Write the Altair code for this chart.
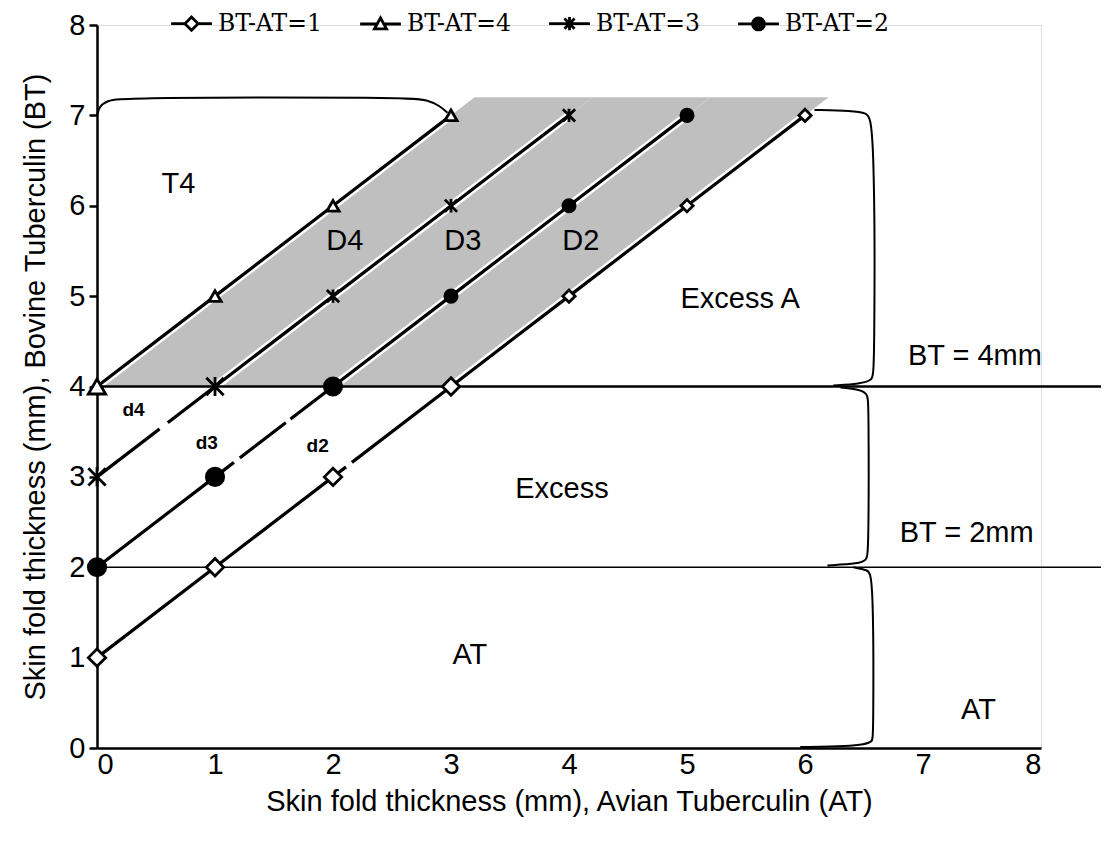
import altair as alt
import pandas as pd

# ---------------- data ----------------
series_names = ["BT-AT=1", "BT-AT=4", "BT-AT=3", "BT-AT=2"]

at_1 = [0, 1, 2, 3, 4, 5, 6]
bt_1 = [1, 2, 3, 4, 5, 6, 7]
at_4 = [0, 1, 2, 3]
bt_4 = [4, 5, 6, 7]
at_3 = [0, 1, 2, 3, 4]
bt_3 = [3, 4, 5, 6, 7]
at_2 = [0, 1, 2, 3, 4, 5]
bt_2 = [2, 3, 4, 5, 6, 7]

band_names = ["D4", "D3", "D2"]
band_upper_diff = [4, 3, 2]
band_lower_diff = [3, 2, 1]
band_bottom = 4.0
band_top = 7.2

tick_values = [0, 1, 2, 3, 4, 5, 6, 7, 8]

# region labels
big_labels = ["T4", "D4", "D3", "D2", "Excess A", "BT = 4mm", "Excess", "BT = 2mm", "AT", "AT"]
big_at = [0.69, 2.10, 3.10, 4.10, 5.45, 7.44, 3.94, 7.37, 3.16, 7.47]
big_bt = [6.24, 5.61, 5.61, 5.61, 4.97, 4.34, 2.87, 2.38, 1.03, 0.42]

small_labels = ["d4", "d3", "d2"]
small_at = [0.31, 0.93, 1.87]
small_bt = [3.74, 3.37, 3.34]

# bracket annotations (AT, BT)
brace_t4_at = [0.0, 0.02, 0.08, 0.22, 2.65, 2.80, 2.90, 2.97]
brace_t4_bt = [7.0, 7.10, 7.16, 7.20, 7.20, 7.17, 7.11, 7.03]
brace_a_at = [6.08, 6.40, 6.52, 6.59, 6.59, 6.57, 6.47, 6.24]
brace_a_bt = [7.06, 7.05, 7.03, 6.95, 4.15, 4.07, 4.03, 4.01]
brace_ex_at = [6.30, 6.46, 6.53, 6.54, 6.54, 6.52, 6.46, 6.19]
brace_ex_bt = [3.99, 3.97, 3.92, 3.82, 2.15, 2.08, 2.04, 2.02]
brace_at_at = [6.41, 6.53, 6.58, 6.58, 6.57, 6.50, 6.38, 5.96]
brace_at_bt = [2.00, 1.97, 1.92, 0.12, 0.07, 0.04, 0.02, 0.01]

# small white breaks in the lines next to the d-labels (AT start, AT end, BT-AT)
gap_at_start = [0.53, 1.16, 1.60, 2.11]
gap_at_end = [0.60, 1.21, 1.64, 2.16]
gap_diff = [3, 2, 2, 1]

thresholds_thick = [4]
thresholds_thin = [2]
rule_start = 0
rule_end = 8.6

# ---------------- tables ----------------
pts = []
for name, ats, bts in [("BT-AT=1", at_1, bt_1), ("BT-AT=4", at_4, bt_4),
                       ("BT-AT=3", at_3, bt_3), ("BT-AT=2", at_2, bt_2)]:
    for a, b in zip(ats, bts):
        pts.append({"series": name, "AT": a, "BT": b})
pts_df = pd.DataFrame(pts)


def band_table(up, lo):
    # parallelogram between BT = AT + lo and BT = AT + up, for band_bottom <= BT <= band_top
    xa, xb, xc, xd = band_bottom - up, band_bottom - lo, band_top - up, band_top - lo
    return pd.DataFrame({
        "AT": [xa, xb, xc, xd],
        "lo": [band_bottom, band_bottom, xc + lo, band_top],
        "hi": [band_bottom, xb + up, band_top, band_top],
    })


brace_rows = []
for n, xs_, ys_ in [("t4", brace_t4_at, brace_t4_bt), ("a", brace_a_at, brace_a_bt),
                    ("ex", brace_ex_at, brace_ex_bt), ("at", brace_at_at, brace_at_bt)]:
    for i, (a, b) in enumerate(zip(xs_, ys_)):
        brace_rows.append({"brace": n, "i": i, "AT": a, "BT": b})
brace_df = pd.DataFrame(brace_rows)

gap_df = pd.DataFrame({"AT": gap_at_start, "AT2": gap_at_end,
                       "BT": [a + d for a, d in zip(gap_at_start, gap_diff)],
                       "BT2": [a + d for a, d in zip(gap_at_end, gap_diff)]})

big_df = pd.DataFrame({"label": big_labels, "AT": big_at, "BT": big_bt})
small_df = pd.DataFrame({"label": small_labels, "AT": small_at, "BT": small_bt})
thick_df = pd.DataFrame({"BT": thresholds_thick, "AT": rule_start, "AT2": rule_end})
thin_df = pd.DataFrame({"BT": thresholds_thin, "AT": rule_start, "AT2": rule_end})

# ---------------- encodings ----------------
FONT = "Liberation Sans"
xs = alt.Scale(domain=[0, 8], nice=False, zero=True)
ys = alt.Scale(domain=[0, 8], nice=False, zero=True)
x_axis = alt.Axis(values=tick_values, grid=False, ticks=False, domainColor="black",
                  domainWidth=2.5, labelFont=FONT, labelFontSize=29, labelColor="black",
                  labelPadding=2, titleFont=FONT, titleFontSize=29, titleFontWeight="normal",
                  titleColor="black", titlePadding=8)
y_axis = alt.Axis(values=tick_values, grid=False, tickColor="black", tickWidth=2.5, tickSize=8,
                  domainColor="black", domainWidth=2.5, labelFont=FONT, labelFontSize=29,
                  labelColor="black", labelPadding=4, titleFont=FONT, titleFontSize=29,
                  titleFontWeight="normal", titleColor="black", titlePadding=18)
XT = "Skin fold thickness (mm), Avian Tuberculin (AT)"
YT = "Skin fold thickness (mm), Bovine Tuberculin (BT)"


def X(field="AT"):
    return alt.X(field, type="quantitative", scale=xs, axis=x_axis, title=XT)


def Y(field="BT"):
    return alt.Y(field, type="quantitative", scale=ys, axis=y_axis, title=YT)


band_layers = [
    alt.Chart(band_table(up, lo)).mark_area(fill="#bfbfbf", interpolate="linear").encode(
        x=X(), y=Y("lo"), y2=alt.Y2("hi"))
    for up, lo in zip(band_upper_diff, band_lower_diff)
]

halo = alt.Chart(pts_df).mark_line(color="white", strokeWidth=8).encode(
    x=X(), y=Y(), detail="series:N", order="AT:Q")
lines = alt.Chart(pts_df).mark_line(color="black", strokeWidth=3.2).encode(
    x=X(), y=Y(), detail="series:N", order="AT:Q")
gaps = alt.Chart(gap_df).mark_rule(color="white", strokeWidth=6).encode(
    x=X(), x2="AT2:Q", y=Y(), y2="BT2:Q")

rule_thick = alt.Chart(thick_df).mark_rule(color="black", strokeWidth=2.5).encode(
    x=X(), x2="AT2:Q", y=Y())
rule_thin = alt.Chart(thin_df).mark_rule(color="black", strokeWidth=1.5).encode(
    x=X(), x2="AT2:Q", y=Y())

braces = alt.Chart(brace_df).mark_line(color="black", strokeWidth=2, interpolate="basis").encode(
    x=X(), y=Y(), detail="brace:N", order="i:Q")

star_path = "M-1,-1L1,1M-1,1L1,-1M0,-1.1L0,1.1"
plot_shapes = ["diamond", "triangle-up", star_path, "circle"]
fill_range = ["white", "white", "black", "black"]

points = alt.Chart(pts_df).mark_point(filled=True, stroke="black", strokeWidth=2.8, opacity=1).encode(
    x=X(), y=Y(),
    shape=alt.Shape("series:N", scale=alt.Scale(domain=series_names, range=plot_shapes), legend=None),
    fill=alt.Fill("series:N", scale=alt.Scale(domain=series_names, range=fill_range), legend=None),
    size=alt.condition("datum.BT > 4", alt.value(150), alt.value(300)),
)

leg_shapes = [
    "M-1.7,0L-0.55,0M0.55,0L1.7,0M-0.55,0L0,-0.55L0.55,0L0,0.55Z",
    "M-1.7,0L-0.3,0M0.3,0L1.7,0M-0.5,0.4L0,-0.5L0.5,0.4Z",
    "M-1.7,0L1.7,0M-0.42,-0.42L0.42,0.42M-0.42,0.42L0.42,-0.42M0,-0.55L0,0.55",
    "M-1.7,0L1.7,0M0.5,0A0.5,0.5,0,1,1,-0.5,0A0.5,0.5,0,1,1,0.5,0Z",
]
legend = alt.Legend(orient="none", legendX=81, legendY=-15, direction="horizontal", title=None,
                    symbolSize=576, symbolStrokeWidth=2.8, symbolStrokeColor="black",
                    symbolOpacity=1, labelFont="DejaVu Serif", labelFontSize=23.5,
                    labelColor="black", labelOffset=13, columnPadding=32, padding=0)
legend_layer = alt.Chart(pts_df).mark_point(filled=True, strokeWidth=2.8, opacity=0).encode(
    x=X(), y=Y(),
    shape=alt.Shape("series:N", scale=alt.Scale(domain=series_names, range=leg_shapes), legend=legend),
    fill=alt.Fill("series:N", scale=alt.Scale(domain=series_names, range=fill_range), legend=legend),
    stroke=alt.Stroke("series:N", scale=alt.Scale(domain=series_names,
                                                  range=["black", "black", "black", "black"]),
                      legend=legend),
)

big_text = alt.Chart(big_df).mark_text(font=FONT, fontSize=29, color="black", align="center",
                                       baseline="middle").encode(x=X(), y=Y(), text="label:N")
small_text = alt.Chart(small_df).mark_text(font=FONT, fontSize=19, fontWeight="bold", color="black",
                                           align="center", baseline="middle").encode(
    x=X(), y=Y(), text="label:N")

chart = alt.layer(
    *band_layers, halo, lines, gaps, rule_thick, rule_thin, braces, points, legend_layer,
    big_text, small_text
).resolve_scale(shape="independent", fill="independent", stroke="independent").properties(
    width=944, height=723,
    autosize=alt.AutoSizeParams(type="none"),
    padding={"left": 89, "top": 17, "right": 60, "bottom": 80},
).configure_view(stroke=None).configure(background="white")

chart.save("out.html", embed_options={"renderer": "svg", "actions": False})
